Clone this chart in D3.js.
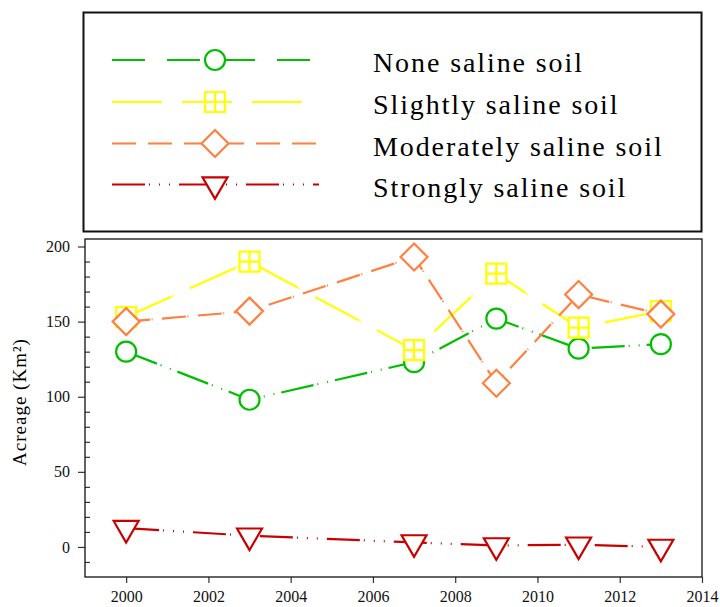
<!DOCTYPE html>
<html>
<head>
<meta charset="utf-8">
<script src="https://cdn.jsdelivr.net/npm/d3@7/dist/d3.min.js"></script>
<style>
  html, body { margin: 0; padding: 0; background: #ffffff; }
  svg { display: block; }
</style>
</head>
<body>
<svg id="chart" width="720" height="607"></svg>
<script>
// Soil salinity acreage by survey year
const years = [2000, 2003, 2007, 2009, 2011, 2013];
const noneSaline = [130, 98, 123, 152, 132, 135];
const slightlySaline = [153, 190, 131, 182, 146, 157];
const moderatelySaline = [150, 157, 193, 109, 168, 155];
const stronglySaline = [12.5, 7.5, 3, 1, 1.5, 0];

const seriesNames = ["None saline soil", "Slightly saline soil", "Moderately saline soil", "Strongly saline soil"];
const xTicks = [2000, 2002, 2004, 2006, 2008, 2010, 2012, 2014];
const yTicks = [0, 50, 100, 150, 200];
const yMinorTicks = [-10, 10, 20, 30, 40, 60, 70, 80, 90, 110, 120, 130, 140, 160, 170, 180, 190];
const yLabel = "Acreage (Km²)";

const seriesValues = [noneSaline, slightlySaline, moderatelySaline, stronglySaline];
const colors = ["#00bf00", "#ffff00", "#ff8040", "#c80000"];
const dashes = ["33,4,1,9,1,7", "50,1.5,1,17.5", "24,1.5,1,9.5", "33,4,1,9,1,9,1,9"];
const markers = ["circle", "crossSquare", "diamond", "downTriangle"];
const SERIF = '"Liberation Serif"';

const svg = d3.select("#chart");

// plot frame
const plotLeft = 85, plotRight = 702, plotTop = 239, plotBottom = 577;
const x = d3.scaleLinear().domain([1999, 2014]).range([plotLeft, plotRight]);
const y = d3.scaleLinear().domain([-20, 205]).range([plotBottom, plotTop]);

// marker path builders, centred on the origin
function markerPath(kind) {
  if (kind === "circle") return d3.symbol(d3.symbolCircle, Math.PI * 10 * 10)();
  if (kind === "downTriangle") return d3.symbol(d3.symbolTriangle, 270)();
  const p = d3.path();
  if (kind === "crossSquare") {
    const h = 10;
    p.rect(-h, -h, 2 * h, 2 * h);
    p.moveTo(0, -h); p.lineTo(0, h);
    p.moveTo(-h, 0); p.lineTo(h, 0);
  } else if (kind === "diamond") {
    const h = 13.5;
    p.moveTo(0, -h); p.lineTo(h, 0); p.lineTo(0, h); p.lineTo(-h, 0); p.closePath();
  }
  return p.toString();
}
function drawMarker(g, kind, cx, cy, color) {
  g.append("path")
    .attr("d", markerPath(kind))
    .attr("transform", `translate(${cx},${cy})` + (kind === "downTriangle" ? " rotate(180)" : ""))
    .attr("fill", "#ffffff")
    .attr("stroke", color)
    .attr("stroke-width", 2.2);
}

// ---- legend box ----
const legend = svg.append("g");
legend.append("rect")
  .attr("x", 83.5).attr("y", 12.5).attr("width", 618).attr("height", 219)
  .attr("fill", "#ffffff").attr("stroke", "#111").attr("stroke-width", 2);

const legendRowY = [60, 102, 143.5, 184.5];
const legendDashes = ["33,22", "50,20", "24,12", "33,4,1,9,1,9,1,9"];
seriesNames.forEach((name, i) => {
  const ly = legendRowY[i];
  legend.append("line")
    .attr("x1", 112).attr("x2", 319).attr("y1", ly).attr("y2", ly)
    .attr("stroke", colors[i]).attr("stroke-width", 2.2)
    .attr("stroke-dasharray", legendDashes[i]);
  drawMarker(legend, markers[i], 215, ly, colors[i]);
  legend.append("text")
    .attr("x", 373).attr("y", ly + 12)
    .style("font-family", SERIF)
    .style("font-size", "28px")
    .style("letter-spacing", "1.9px")
    .style("fill", "#000")
    .text(name);
});

// ---- axes ----
const xAxis = d3.axisBottom(x).tickValues(xTicks).tickFormat(d3.format("d")).tickSize(6).tickPadding(8);
const gx = svg.append("g").attr("transform", `translate(0,${plotBottom})`).call(xAxis);
gx.select(".domain").remove();

const yAxis = d3.axisLeft(y).tickValues(yTicks).tickFormat(d3.format("d")).tickSize(7).tickPadding(8);
const gy = svg.append("g").attr("transform", `translate(${plotLeft},0)`).call(yAxis);
gy.select(".domain").remove();

// minor ticks point into the plot
const yMinor = d3.axisRight(y).tickValues(yMinorTicks).tickFormat("").tickSize(5);
const gym = svg.append("g").attr("transform", `translate(${plotLeft},0)`).call(yMinor);
gym.select(".domain").remove();

[gx, gy, gym].forEach(g => {
  g.attr("font-family", null).attr("font-size", null);
  g.selectAll(".tick line").attr("stroke", "#333").attr("stroke-width", 1.2);
  g.selectAll(".tick text")
    .style("font-family", SERIF)
    .style("font-size", "16px")
    .style("fill", "#111");
});

svg.append("rect")
  .attr("x", plotLeft).attr("y", plotTop)
  .attr("width", plotRight - plotLeft).attr("height", plotBottom - plotTop)
  .attr("fill", "none").attr("stroke", "#111").attr("stroke-width", 1.3);

svg.append("text")
  .attr("transform", `translate(26,${(plotTop + plotBottom) / 2 - 6}) rotate(-90)`)
  .attr("text-anchor", "middle")
  .style("font-family", SERIF)
  .style("font-size", "19px")
  .style("letter-spacing", "1px")
  .style("fill", "#000")
  .text(yLabel);

// ---- series: dashed line, then hollow markers ----
const line = d3.line().x(d => x(d[0])).y(d => y(d[1]));
seriesValues.forEach((vals, i) => {
  const pts = years.map((yr, k) => [yr, vals[k]]);
  const g = svg.append("g");
  g.append("path")
    .attr("d", line(pts))
    .attr("fill", "none")
    .attr("stroke", colors[i])
    .attr("stroke-width", 2.2)
    .attr("stroke-dasharray", dashes[i]);
  pts.forEach(p => drawMarker(g, markers[i], x(p[0]), y(p[1]), colors[i]));
});
</script>
</body>
</html>
